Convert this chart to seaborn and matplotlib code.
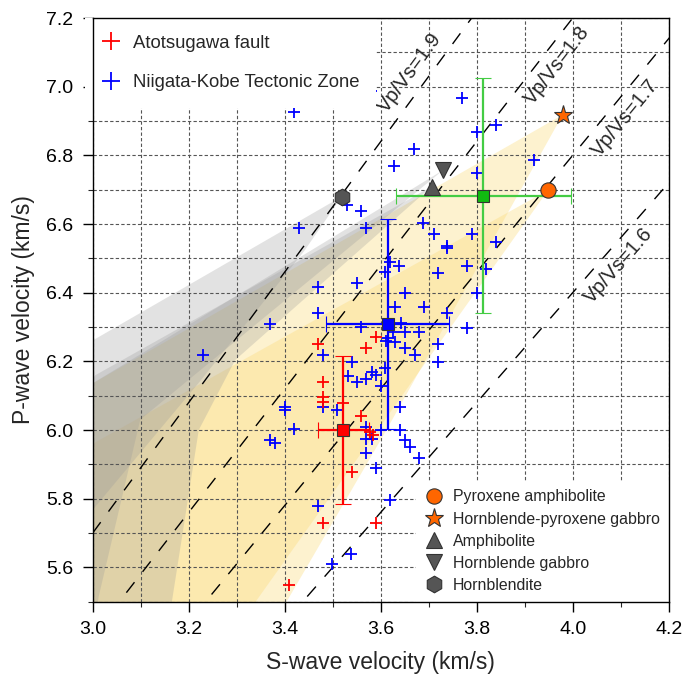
import matplotlib
matplotlib.use("Agg")
import matplotlib.pyplot as plt
from matplotlib.lines import Line2D
import numpy as np
import pandas as pd
import seaborn as sns

# Niigata-Kobe Tectonic Zone samples (blue crosses)
nktz_vs = [3.580, 3.419, 3.770, 3.840, 3.800, 3.670, 3.628, 3.800, 3.919, 3.689,
           3.529, 3.560, 3.430, 3.569, 3.609, 3.550, 3.469, 3.469, 3.369, 3.560,
           3.611, 3.479, 3.230, 3.540, 3.609, 3.531, 3.550, 3.569, 3.581, 3.590,
           3.600, 3.401, 3.401, 3.479, 3.510, 3.569, 3.419,
           3.711, 3.790, 3.739, 3.739, 3.840, 3.619, 3.639, 3.779, 3.819,
           3.720, 3.651, 3.800, 3.630, 3.690, 3.739, 3.779, 3.642, 3.626,
           3.651, 3.680, 3.616, 3.630, 3.651, 3.671, 3.720, 3.720, 3.640,
           3.569, 3.581, 3.569, 3.600, 3.640, 3.651, 3.661, 3.680, 3.590,
           3.470, 3.619, 3.538, 3.498, 3.369, 3.380]
nktz_vp = [6.988, 6.927, 6.968, 6.888, 6.869, 6.818, 6.769, 6.749, 6.786, 6.602,
           6.655, 6.638, 6.588, 6.588, 6.461, 6.429, 6.417, 6.340, 6.309, 6.301,
           6.259, 6.218, 6.218, 6.199, 6.180, 6.158, 6.141, 6.148, 6.170, 6.160,
           6.128, 6.068, 6.058, 6.068, 6.058, 6.010, 6.003,
           6.570, 6.570, 6.537, 6.529, 6.548, 6.490, 6.478, 6.478, 6.468,
           6.458, 6.398, 6.398, 6.359, 6.359, 6.340, 6.298, 6.311, 6.286,
           6.286, 6.286, 6.267, 6.257, 6.238, 6.218, 6.250, 6.199, 6.068,
           5.973, 5.973, 5.932, 6.000, 6.000, 5.971, 5.950, 5.918, 5.890,
           5.780, 5.796, 5.638, 5.610, 5.971, 5.961]

# Atotsugawa fault samples (red crosses)
ato_vs = [3.469, 3.590, 3.569, 3.479, 3.479, 3.479, 3.521, 3.560, 3.578, 3.583,
          3.540, 3.479, 3.590, 3.410]
ato_vp = [6.250, 6.270, 6.238, 6.139, 6.095, 6.082, 6.080, 6.041, 5.995, 5.985,
          5.879, 5.730, 5.730, 5.549]

# averages with one standard deviation
mean_vs = [3.522, 3.615, 3.814]
mean_vp = [6.000, 6.309, 6.683]
sd_vs = [0.053, 0.128, 0.182]
sd_vp = [0.215, 0.306, 0.342]
mean_line_colors = ["red", "blue", "#44cc44"]
mean_face_colors = ["red", "blue", "#11bb11"]

# laboratory rock measurements
rock_names = ["Pyroxene amphibolite", "Hornblende-pyroxene gabbro", "Amphibolite",
              "Hornblende gabbro", "Hornblendite"]
rock_vs = [3.949, 3.979, 3.706, 3.730, 3.519]
rock_vp = [6.699, 6.918, 6.709, 6.757, 6.680]
rock_markers = ["o", "*", "^", "v", "h"]
rock_colors = ["#ff6600", "#ff6600", "#555555", "#555555", "#555555"]
rock_sizes = [11, 14, 11, 11, 12]

# shaded fields below each rock point: upper edge end and lower edge points
field_upper = [(2.9, 5.882), (2.9, 6.056), (2.9, 6.077), (2.9, 6.051), (2.9, 6.180)]
field_lower = [
    [(3.238, 5.3), (3.342, 5.505)],
    [(3.36, 5.3), (3.404, 5.5), (3.612, 6.0)],
    [(3.15, 5.3), (3.165, 5.5), (3.221, 6.0), (3.297, 6.204)],
    [(2.99, 5.3), (3.0125, 5.515), (3.099, 6.03)],
    [(2.9, 5.6), (3.223, 6.141), (3.44, 6.52)],
]
field_colors = ["#fbd973", "#fbd973", "#999999", "#999999", "#999999"]
field_alpha = [0.34, 0.34, 0.28, 0.28, 0.28]

# Vp/Vs reference lines
ratios = [1.6, 1.7, 1.8, 1.9]
ratio_label_vs = [4.095, 4.109, 3.968, 3.661]
ratio_label_vp = [6.48, 6.91, 7.061, 7.04]

sns.set_theme(style="white")
plt.rcParams["font.family"] = ["Liberation Sans", "DejaVu Sans"]

fig = plt.figure(figsize=(6.82, 6.75), dpi=100)
ax = fig.add_axes([0.1359, 0.1086, 0.8446, 0.8647])
ax.set_xlim(3.0, 4.2)
ax.set_ylim(5.5, 7.2)

# shaded fields
for i in range(len(rock_vs)):
    pts = [(rock_vs[i], rock_vp[i]), field_upper[i], (2.9, 5.3)] + field_lower[i]
    poly = plt.Polygon(pts, closed=True, facecolor=field_colors[i],
                       edgecolor="none", alpha=field_alpha[i], zorder=0.2)
    ax.add_patch(poly)

# Vp/Vs lines
xs = np.array([2.8, 4.4])
for r, lx, ly in zip(ratios, ratio_label_vs, ratio_label_vp):
    ax.plot(xs, r * xs, color="black", lw=1.0, dashes=(9.5, 9.5), zorder=2)
    ang = ax.transData.transform_angles(np.array([np.degrees(np.arctan(r))]),
                                        np.array([[lx, ly]]))[0]
    ax.text(lx, ly, f"Vp/Vs={r}", fontsize=14.5, rotation=ang,
            rotation_mode="anchor", ha="center", va="center", zorder=3)

# sample crosses
nktz = pd.DataFrame({"Vs": nktz_vs, "Vp": nktz_vp})
ato = pd.DataFrame({"Vs": ato_vs, "Vp": ato_vp})
sns.scatterplot(data=nktz, x="Vs", y="Vp", marker="+", color="blue", s=70,
                linewidth=1.3, ax=ax, zorder=4)
sns.scatterplot(data=ato, x="Vs", y="Vp", marker="+", color="red", s=70,
                linewidth=1.3, ax=ax, zorder=4)

# mean values with error bars
for i in range(len(mean_vs)):
    ax.errorbar(mean_vs[i], mean_vp[i], xerr=sd_vs[i], yerr=sd_vp[i],
                color=mean_line_colors[i], lw=1.6, capsize=6, capthick=1.6,
                marker="s", ms=8, mfc=mean_face_colors[i], mec="#333333",
                mew=0.8, zorder=5)

# rock measurements
rocks = pd.DataFrame({"Vs": rock_vs, "Vp": rock_vp, "name": rock_names})
for i, row in rocks.iterrows():
    ax.plot(row["Vs"], row["Vp"], marker=rock_markers[i], ms=rock_sizes[i],
            mfc=rock_colors[i], mec="#333333", mew=0.8, ls="none", zorder=6)

ax.set_xlim(3.0, 4.2)
ax.set_ylim(5.5, 7.2)
ax.set_xticks(np.arange(3.0, 4.21, 0.2))
ax.set_yticks(np.arange(5.6, 7.21, 0.2))
ax.set_xticks(np.arange(3.0, 4.21, 0.1), minor=True)
ax.set_yticks(np.arange(5.5, 7.21, 0.1), minor=True)
ax.xaxis.set_major_formatter(plt.FormatStrFormatter("%.1f"))
ax.yaxis.set_major_formatter(plt.FormatStrFormatter("%.1f"))
ax.set_axisbelow(True)
ax.grid(True, which="both", color="#555555", lw=0.8, dashes=(3, 2))
ax.tick_params(which="major", direction="out", length=7, width=1, labelsize=14,
               pad=7, colors="black", bottom=True, left=True)
ax.tick_params(which="minor", direction="out", length=3.5, width=0.8,
               bottom=True, left=True)
for sp in ax.spines.values():
    sp.set_color("black")
    sp.set_linewidth(1.0)
    sp.set_zorder(8)
ax.set_xlabel("S-wave velocity (km/s)", fontsize=16.5, labelpad=9)
ax.set_ylabel("P-wave velocity (km/s)", fontsize=16.5, labelpad=8)

# legends
region_handles = [
    Line2D([], [], marker="+", color="red", ls="none", ms=13, mew=1.3),
    Line2D([], [], marker="+", color="blue", ls="none", ms=13, mew=1.3),
]
leg1 = ax.legend(region_handles, ["Atotsugawa fault", "Niigata-Kobe Tectonic Zone"],
                 loc="upper left", bbox_to_anchor=(-0.014, 1.0), borderaxespad=0.0,
                 frameon=True, facecolor="white", edgecolor="none", framealpha=1,
                 fancybox=False, fontsize=13.3, labelspacing=1.22,
                 handlelength=1.1, handletextpad=0.6, borderpad=0.9)
leg1.set_zorder(7)
ax.add_artist(leg1)

rock_handles = [Line2D([], [], marker=m, ls="none", ms=s, mfc=c, mec="#333333", mew=0.8)
                for m, c, s in zip(rock_markers, rock_colors, rock_sizes)]
leg2 = ax.legend(rock_handles, rock_names, loc="lower right", borderaxespad=0.0,
                 frameon=True, facecolor="white", edgecolor="none", framealpha=1,
                 fancybox=False, fontsize=11.4, labelspacing=0.45,
                 handlelength=1.2, handletextpad=0.6, borderpad=0.55)
leg2.set_zorder(7)

fig.savefig("out.png", dpi=100)
